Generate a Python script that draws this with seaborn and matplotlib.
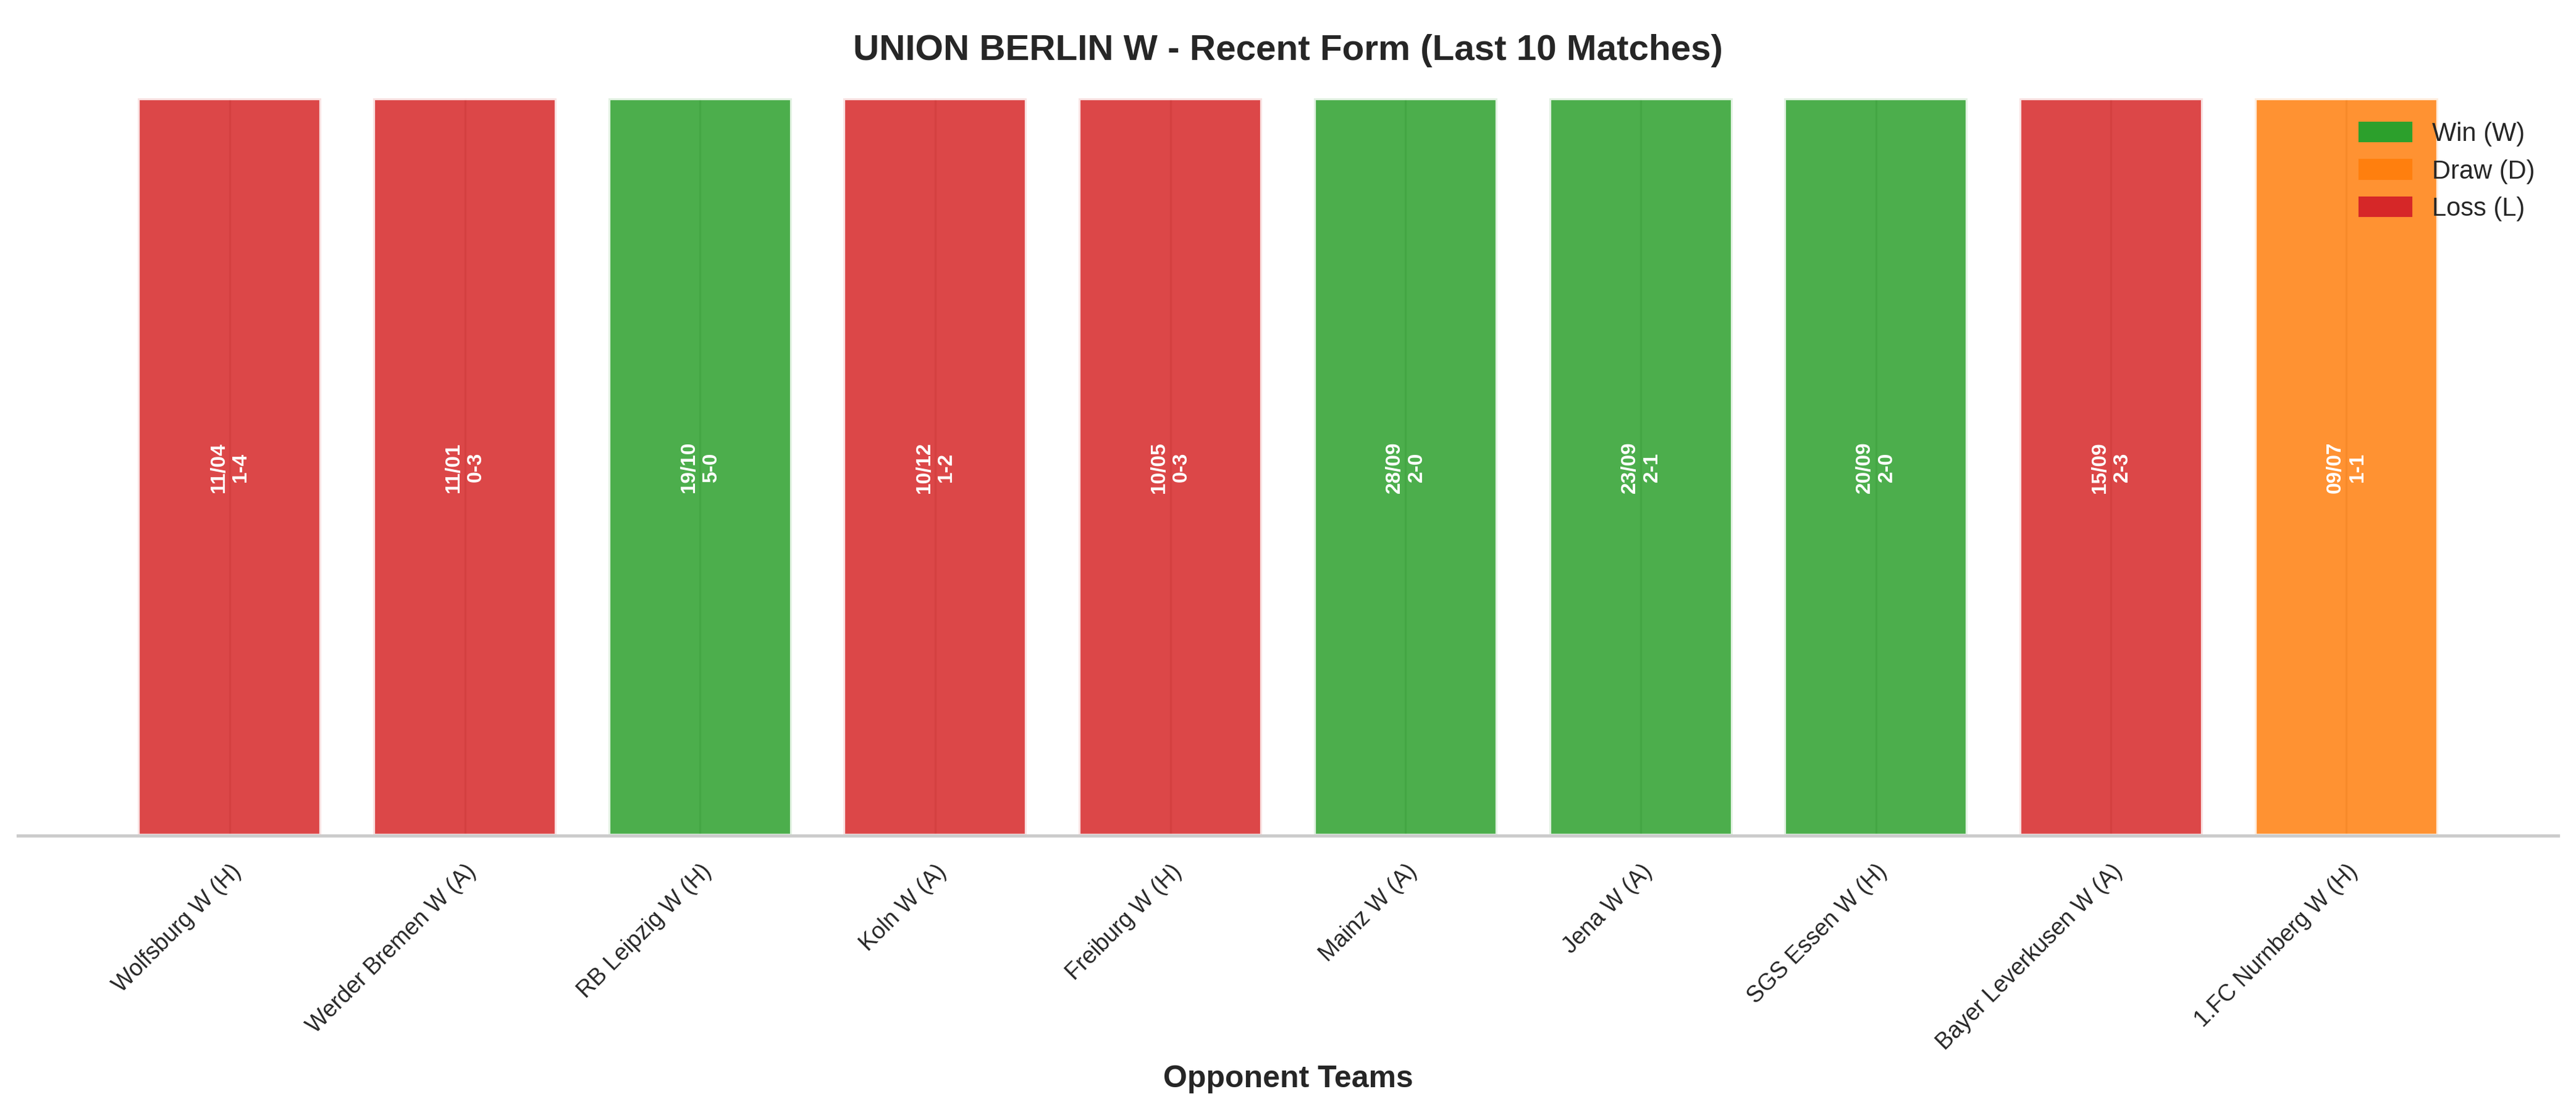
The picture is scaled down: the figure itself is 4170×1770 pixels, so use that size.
import matplotlib
matplotlib.use("Agg")
import matplotlib.pyplot as plt
import seaborn as sns
import pandas as pd
from matplotlib.patches import Patch

opponents = ["Wolfsburg W (H)", "Werder Bremen W (A)", "RB Leipzig W (H)", "Koln W (A)",
             "Freiburg W (H)", "Mainz W (A)", "Jena W (A)", "SGS Essen W (H)",
             "Bayer Leverkusen W (A)", "1.FC Nurnberg W (H)"]
dates = ["11/04", "11/01", "19/10", "10/12", "10/05", "28/09", "23/09", "20/09", "15/09", "09/07"]
scores = ["1-4", "0-3", "5-0", "1-2", "0-3", "2-0", "2-1", "2-0", "2-3", "1-1"]
results = ["L", "L", "W", "L", "L", "W", "W", "W", "L", "D"]
heights = [1] * 10

colors = {"W": "#2ca02c", "D": "#ff7f0e", "L": "#d62728"}

df = pd.DataFrame({"opp": opponents, "h": heights, "res": results})

sns.set_theme(style="whitegrid")
plt.rcParams['font.family'] = ['Arial', 'Liberation Sans', 'DejaVu Sans']

fig, ax = plt.subplots(figsize=(13.9, 5.9), dpi=300)
sns.barplot(data=df, x="opp", y="h", hue="res", palette=colors, dodge=False, saturation=1,
            alpha=0.85, edgecolor="white", linewidth=1.5, width=0.78, legend=False, ax=ax)

for i, (d, s) in enumerate(zip(dates, scores)):
    ax.text(i, 0.5, f"{d}\n{s}", rotation=90, ha="center", va="center",
            color="white", fontsize=8, fontweight="bold")

ax.set_ylim(0, 1.0)
ax.set_xlim(-0.9, 9.9)
ax.set_yticks([])
ax.set_ylabel("")
ax.grid(axis="y", visible=False)
ax.grid(axis="x", visible=True, color="#cccccc", linewidth=0.8)
ax.set_axisbelow(True)
ax.set_xlabel("Opponent Teams", fontsize=12, fontweight="bold")
ax.set_title("UNION BERLIN W - Recent Form (Last 10 Matches)", fontsize=14, fontweight="bold", pad=15)
plt.setp(ax.get_xticklabels(), rotation=45, ha="right", rotation_mode="anchor", fontsize=9)
for sp in ["left", "right", "top"]:
    ax.spines[sp].set_visible(False)
ax.spines["bottom"].set_color("#cccccc")

handles = [Patch(color=colors["W"], label="Win (W)"),
           Patch(color=colors["D"], label="Draw (D)"),
           Patch(color=colors["L"], label="Loss (L)")]
ax.legend(handles=handles, loc="upper right", frameon=False, fontsize=10)

fig.subplots_adjust(left=0.007, right=0.993, top=0.91, bottom=0.236)
fig.savefig("out.png", dpi=300)
